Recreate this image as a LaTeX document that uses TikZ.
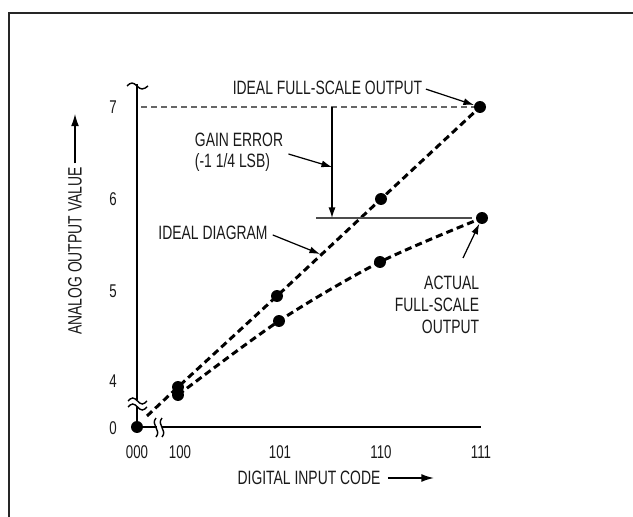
\documentclass[tikz,border=0pt]{standalone}
\usepackage{fontspec}
\setmainfont{Liberation Sans}[FakeStretch=0.72]
\usetikzlibrary{arrows.meta, positioning}

\begin{document}
\begin{tikzpicture}[
  x=0.02cm, y=-0.02cm,
  frame/.style={line width=1.2pt, draw=black!85},
  axis/.style={line width=1.7pt},
  dot/.style={circle, fill=black, inner sep=0pt, minimum size=0.24cm},
  datum/.style={line width=1.7pt, dash pattern=on 4pt off 2.4pt},
  refline/.style={line width=0.6pt, draw=black!60, dash pattern=on 3.4pt off 2.3pt},
  pointer/.style={-{Latex[length=6pt, width=4pt]}, line width=0.7pt},
  axisarrow/.style={-{Latex[length=7pt, width=4.5pt]}, line width=0.7pt},
  squiggle/.style={line width=0.8pt},
  lbl/.style={inner sep=0pt, text=black!90},
  tick/.style={lbl, font=\fontsize{10.5}{12}\selectfont},
  every node/.append style={font=\fontsize{11}{12.5}\selectfont}
]
\useasboundingbox (0,0) rectangle (633,517);

% Frame
\draw[frame] (9,517) -- (9,13) -- (633,13);

% Axes
\coordinate (ytop) at (137,84);
\coordinate (xend) at (481,427);
\node[dot] (o) at (137,427) {};
\draw[axis] (ytop) -- (o.center) -- (xend);

% Axis breaks
\fill[white] (130,400) rectangle (144,406);
\draw[squiggle] (128,401) sin (132.75,398) cos (137.5,401) sin (142.25,404) cos (147,401);
\draw[squiggle] (128,407) sin (132.75,404) cos (137.5,407) sin (142.25,410) cos (147,407);
\draw[squiggle] (127,86) sin (132,83) cos (137,86) sin (142,89) cos (148,86);
\fill[white] (157,423) rectangle (162,431);
\draw[squiggle] (156,418) .. controls (150,425) and (162,430) .. (156,437);
\draw[squiggle] (162,418) .. controls (156,425) and (168,430) .. (162,437);

% Tick labels
\node[tick] at (113,107) {7};
\node[tick] at (113,199) {6};
\node[tick] at (113,291) {5};
\node[tick] at (113,381) {4};
\node[tick] at (113,428) {0};
\node[tick] at (137,452) {000};
\node[tick] at (180,452) {100};
\node[tick] at (280,452) {101};
\node[tick] at (381,452) {110};
\node[tick] at (481,452) {111};

% Axis titles
\node[lbl, rotate=90] (ylabel) at (75,251) {ANALOG OUTPUT VALUE};
\coordinate[above=1.06cm of ylabel.east] (ytip);
\draw[axisarrow, shorten <=2pt] (ylabel.east) -- (ytip);
\node[lbl] (xlabel) at (309,478) {DIGITAL INPUT CODE};
\coordinate[right=1.06cm of xlabel.east] (xtip);
\draw[axisarrow, shorten <=4pt] (xlabel.east) -- (xtip);

% Data points
\node[dot] (i100) at (178,387) {};
\node[dot] (i101) at (277,296) {};
\node[dot] (i110) at (381,199) {};
\node[dot] (i111) at (480,107) {};
\node[dot] (a100) at (178,395) {};
\node[dot] (a101) at (279,321) {};
\node[dot] (a110) at (380,262) {};
\node[dot] (a111) at (482,218) {};

% Ideal line and actual curve
\coordinate (istart) at (147,416);
\draw[datum] (istart) -- (i100.center) -- (i101.center) -- (i110.center) -- (i111.center);
\draw[datum] plot[smooth] coordinates {(a100.center) (a101.center) (a110.center) (a111.center)};

% Full-scale reference lines
\coordinate (y7) at (141,107);
\draw[refline] (y7) -- (i111);
\coordinate (hstart) at (316,218);
\draw[line width=0.6pt, draw=black!70, shorten >=2pt] (hstart) -- (a111);

% Gain error
\coordinate (gtop) at (332,107);
\coordinate (gbot) at (332,218);
\draw[pointer] (gtop) -- (gbot);
\node[lbl, align=left, font=\fontsize{11}{11.9}\selectfont] (gain) at (239,152.5) {GAIN ERROR\\(-1 1/4 LSB)};
\coordinate (gtip) at (332,167);
\draw[pointer, shorten <=3pt] (gain.east) -- (gtip);

% Annotations
\node[lbl] (ifs) at (327.5,88) {IDEAL FULL-SCALE OUTPUT};
\draw[pointer, shorten <=2pt] (ifs.east) -- (i111);
\node[lbl] (idl) at (213,233) {IDEAL DIAGRAM};
\coordinate (itip) at (320,254);
\draw[pointer, shorten <=3pt] (idl.east) -- (itip);
\node[lbl, align=right] (act) at (437,305) {ACTUAL\\FULL-SCALE\\OUTPUT};
\coordinate (abase) at (463,258);
\draw[pointer] (abase) -- (a111);

\end{tikzpicture}
\end{document}
